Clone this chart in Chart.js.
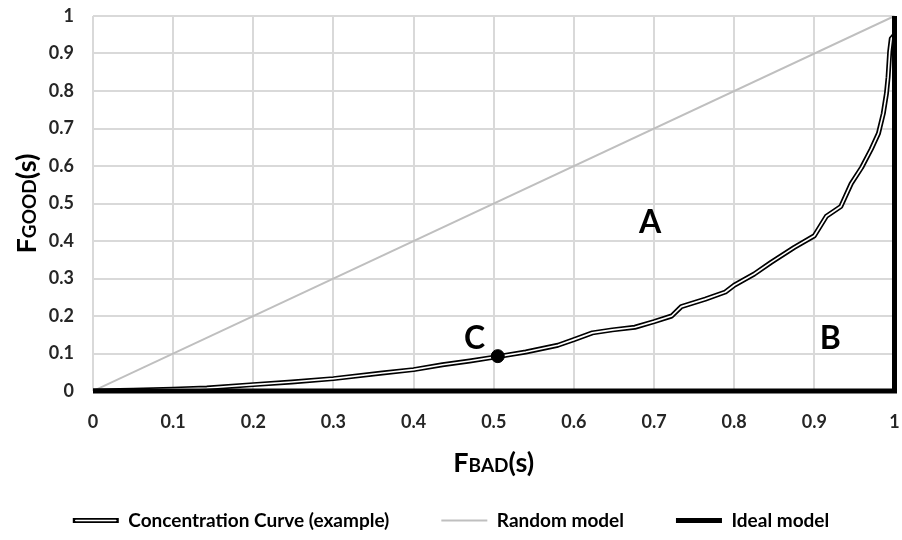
<!DOCTYPE html>
<html>
<head>
<meta charset="utf-8">
<script src="https://cdn.jsdelivr.net/npm/chart.js@4.4.0/dist/chart.umd.min.js"></script>
<style>
  html, body { margin: 0; padding: 0; background: #ffffff; }
  #wrap { width: 902px; height: 540px; position: relative; }
</style>
</head>
<body>
<div id="wrap"><canvas id="c" width="902" height="540"></canvas></div>
<script>
// ---- data ----
const curveX = [0, 0.05, 0.1, 0.142, 0.2, 0.248, 0.3, 0.361, 0.4, 0.436, 0.47, 0.503, 0.54, 0.58, 0.6, 0.623, 0.648, 0.676, 0.7, 0.722, 0.734, 0.764, 0.789, 0.8, 0.825, 0.846, 0.875, 0.9, 0.915, 0.933, 0.946, 0.959, 0.971, 0.98, 0.986, 0.99, 0.992, 0.994, 0.996, 1];
const curveY = [0, 0.002, 0.005, 0.008, 0.017, 0.024, 0.033, 0.048, 0.057, 0.07, 0.08, 0.091, 0.104, 0.122, 0.137, 0.155, 0.163, 0.17, 0.185, 0.2, 0.225, 0.245, 0.264, 0.282, 0.312, 0.343, 0.383, 0.414, 0.466, 0.492, 0.553, 0.596, 0.645, 0.687, 0.74, 0.794, 0.837, 0.905, 0.94, 0.95];
const randomX = [0, 1];
const randomY = [0, 1];
const idealX = [0, 1, 1];
const idealY = [0, 0, 1];
const pointC = { x: 0.505, y: 0.093 };
const seriesNames = ['Concentration Curve (example)', 'Random model', 'Ideal model'];
const regionLabels = [
  { text: 'A', x: 0.695, y: 0.45 },
  { text: 'B', x: 0.92, y: 0.139 },
  { text: 'C', x: 0.476, y: 0.139 }
];
const xTitle = ['F', 'BAD', '(s)'];
const yTitle = ['F', 'GOOD', '(s)'];

const toPts = (xs, ys) => xs.map((x, i) => ({ x: x, y: ys[i] }));
const FONT = 'Lato, "Open Sans", "DejaVu Sans", sans-serif';

// Draw axis titles (small caps style) and region labels
const decorPlugin = {
  id: 'decor',
  afterDraw(chart) {
    const ctx = chart.ctx;
    const xs = chart.scales.x, ys = chart.scales.y;
    const ca = chart.chartArea;
    ctx.save();
    ctx.fillStyle = '#000';
    ctx.font = 'bold 32px ' + FONT;
    ctx.textAlign = 'center';
    ctx.textBaseline = 'middle';
    regionLabels.forEach(l => {
      ctx.fillText(l.text, xs.getPixelForValue(l.x), ys.getPixelForValue(l.y));
    });
    const parts = (arr) => [
      { t: arr[0], f: 'bold 27px ' + FONT },
      { t: arr[1], f: 'bold 19px ' + FONT },
      { t: arr[2], f: 'bold 27px ' + FONT }
    ];
    const drawComposite = (arr, cx, baseY) => {
      const p = parts(arr);
      let total = 0;
      p.forEach(q => { ctx.font = q.f; q.w = ctx.measureText(q.t).width; total += q.w; });
      let x = cx - total / 2;
      ctx.textAlign = 'left';
      ctx.textBaseline = 'alphabetic';
      p.forEach(q => { ctx.font = q.f; ctx.fillText(q.t, x, baseY); x += q.w; });
    };
    drawComposite(xTitle, (ca.left + ca.right) / 2, 472);
    ctx.save();
    ctx.translate(36, (ca.top + ca.bottom) / 2);
    ctx.rotate(-Math.PI / 2);
    drawComposite(yTitle, 0, 0);
    ctx.restore();
    // white inner line for concentration legend sample
    const lg = chart.legend;
    if (lg && lg.legendHitBoxes && lg.legendItems) {
      lg.legendItems.forEach((it, i) => {
        if (it.text === seriesNames[0]) {
          const hb = lg.legendHitBoxes[i];
          const w = chart.options.plugins.legend.labels.pointStyleWidth;
          const cy = hb.top + hb.height / 2;
          ctx.strokeStyle = '#fff';
          ctx.lineWidth = 1.6;
          ctx.lineCap = 'round';
          ctx.beginPath();
          ctx.moveTo(hb.left + 3, cy);
          ctx.lineTo(hb.left + w - 3, cy);
          ctx.stroke();
        }
      });
    }
    ctx.restore();
  }
};

new Chart(document.getElementById('c'), {
  type: 'scatter',
  data: {
    datasets: [
      { label: 'C', data: [pointC], showLine: false, pointRadius: 6.5, pointBackgroundColor: '#000', pointBorderColor: '#000', order: 0 },
      { label: seriesNames[2], data: toPts(idealX, idealY), showLine: true, borderColor: '#000', backgroundColor: '#000', borderWidth: 5, pointRadius: 0, order: 1, borderJoinStyle: 'miter', clip: false },
      { label: 'inner', data: toPts(curveX, curveY), showLine: true, borderColor: '#fff', backgroundColor: '#fff', borderWidth: 1.6, pointRadius: 0, order: 2, borderJoinStyle: 'round' },
      { label: seriesNames[0], data: toPts(curveX, curveY), showLine: true, borderColor: '#000', backgroundColor: '#000', borderWidth: 5, pointRadius: 0, order: 3, borderJoinStyle: 'round', borderCapStyle: 'round' },
      { label: seriesNames[1], data: toPts(randomX, randomY), showLine: true, borderColor: '#bfbfbf', backgroundColor: '#bfbfbf', borderWidth: 2, pointRadius: 0, order: 4 }
    ]
  },
  options: {
    responsive: false,
    animation: false,
    devicePixelRatio: 1,
    layout: { padding: { top: 16, right: 0, bottom: 0, left: 0 } },
    plugins: {
      tooltip: { enabled: false },
      legend: {
        position: 'bottom',
        labels: {
          usePointStyle: true,
          pointStyle: 'line',
          pointStyleWidth: 46,
          padding: 52,
          color: '#000',
          font: { family: FONT, size: 19, weight: 'bold' },
          filter: (item) => seriesNames.includes(item.text),
          sort: (a, b) => seriesNames.indexOf(a.text) - seriesNames.indexOf(b.text)
        }
      }
    },
    scales: {
      x: {
        type: 'linear', min: 0, max: 1,
        afterFit: (s) => { s.height = 68; s.paddingLeft = 0; s.paddingRight = 0; },
        grid: { color: '#d9d9d9', lineWidth: 2, drawTicks: false },
        border: { display: false },
        ticks: {
          stepSize: 0.1, padding: 20, color: '#262626',
          font: { family: FONT, size: 18, weight: 'bold' },
          callback: (v) => String(Math.round(v * 10) / 10)
        }
      },
      y: {
        type: 'linear', min: 0, max: 1,
        afterFit: (s) => { s.width = 93; s.paddingTop = 0; s.paddingBottom = 0; },
        grid: { color: '#d9d9d9', lineWidth: 2, drawTicks: false },
        border: { display: false },
        ticks: {
          stepSize: 0.1, padding: 19, color: '#262626',
          font: { family: FONT, size: 18, weight: 'bold' },
          callback: (v) => String(Math.round(v * 10) / 10)
        }
      }
    }
  },
  plugins: [decorPlugin]
});
</script>
</body>
</html>
